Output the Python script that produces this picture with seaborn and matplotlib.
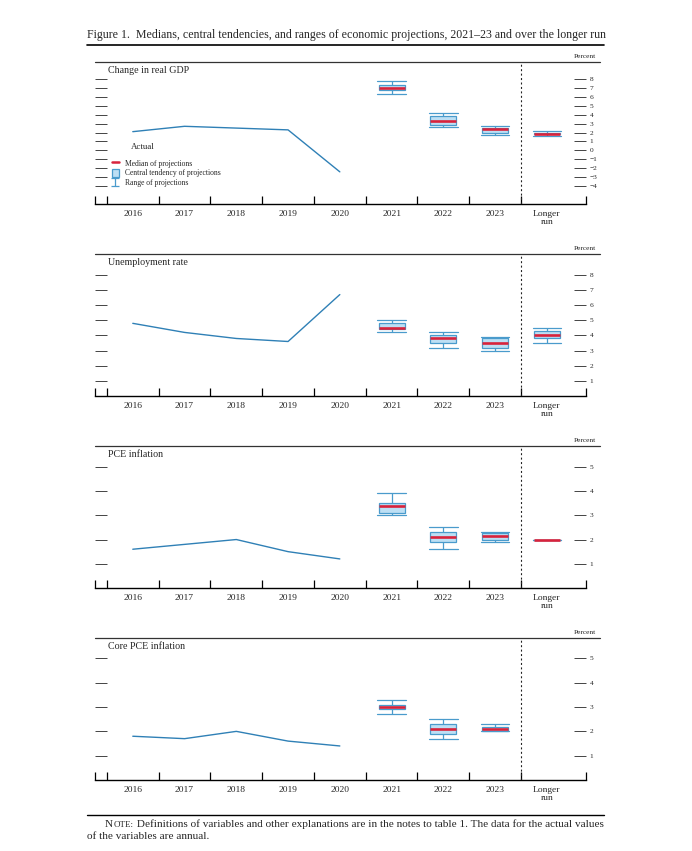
import matplotlib
matplotlib.use("Agg")
import matplotlib.pyplot as plt
from matplotlib.lines import Line2D
from matplotlib.patches import Patch
from matplotlib.path import Path
import seaborn as sns
import pandas as pd
import numpy as np

# actual values, 2016-2020
years = ["2016", "2017", "2018", "2019", "2020"]
proj_labels = ["2021", "2022", "2023", "Longer\nrun"]

gdp_actual = [2.1, 2.7, 2.5, 2.3, -2.4]
unemp_actual = [4.8, 4.2, 3.8, 3.6, 6.7]
pce_actual = [1.6, 1.8, 2.0, 1.5, 1.2]
core_actual = [1.8, 1.7, 2.0, 1.6, 1.4]

# projections: 2021, 2022, 2023, longer run
gdp_range_low = [6.3, 2.6, 1.7, 1.6]
gdp_ct_low = [6.8, 2.8, 2.0, 1.8]
gdp_median = [7.0, 3.3, 2.4, 1.8]
gdp_ct_high = [7.3, 3.8, 2.5, 2.0]
gdp_range_high = [7.8, 4.2, 2.7, 2.2]

unemp_range_low = [4.2, 3.2, 3.0, 3.5]
unemp_ct_low = [4.4, 3.5, 3.2, 3.8]
unemp_median = [4.5, 3.8, 3.5, 4.0]
unemp_ct_high = [4.8, 4.0, 3.8, 4.3]
unemp_range_high = [5.0, 4.2, 3.9, 4.5]

pce_range_low = [3.0, 1.6, 1.9, 2.0]
pce_ct_low = [3.1, 1.9, 2.0, 2.0]
pce_median = [3.4, 2.1, 2.15, 2.0]
pce_ct_high = [3.5, 2.3, 2.25, 2.0]
pce_range_high = [3.9, 2.5, 2.3, 2.0]

# no longer-run projection for core PCE
core_range_low = [2.7, 1.7, 2.0]
core_ct_low = [2.9, 1.9, 2.0]
core_median = [3.0, 2.1, 2.1]
core_ct_high = [3.1, 2.3, 2.2]
core_range_high = [3.3, 2.5, 2.3]

line_blue = "#2f80b6"
box_edge = "#4a9bcc"
box_fill = "#bddff4"
med_red = "#d8233c"

sns.set_style("white")
plt.rcParams["font.family"] = ["Liberation Serif", "DejaVu Serif"]


def proj_frame(lo, ctl, med, cth, hi):
    # five points per year: quartiles land on the central tendency,
    # min/max on the range, middle value on the median
    rows = []
    for i in range(len(med)):
        for v in (lo[i], ctl[i], med[i], cth[i], hi[i]):
            rows.append({"pos": 5 + i, "value": v})
    return pd.DataFrame(rows)


panels = [
    ("Change in real GDP", gdp_actual,
     proj_frame(gdp_range_low, gdp_ct_low, gdp_median, gdp_ct_high, gdp_range_high),
     (-6.0, 9.9), list(range(-4, 9))),
    ("Unemployment rate", unemp_actual,
     proj_frame(unemp_range_low, unemp_ct_low, unemp_median, unemp_ct_high, unemp_range_high),
     (0, 9.38), list(range(1, 9))),
    ("PCE inflation", pce_actual,
     proj_frame(pce_range_low, pce_ct_low, pce_median, pce_ct_high, pce_range_high),
     (0, 5.86), list(range(1, 6))),
    ("Core PCE inflation", core_actual,
     proj_frame(core_range_low, core_ct_low, core_median, core_ct_high, core_range_high),
     (0, 5.84), list(range(1, 6))),
]

W, H = 692, 851
fig = plt.figure(figsize=(W / 100, H / 100), dpi=100)

ax_left = 95 / W
ax_w = (586 - 95) / W
tops = [62, 254, 446, 638]
ax_h_px = 142
xlo, xhi = -0.73, 8.756

for k, (title, actual, proj, ylim, yt) in enumerate(panels):
    bottom = 1 - (tops[k] + ax_h_px) / H
    ax = fig.add_axes([ax_left, bottom, ax_w, ax_h_px / H])

    sns.lineplot(x=list(range(len(actual))), y=actual, ax=ax, color=line_blue, lw=1.0)
    sns.boxplot(data=proj, x="pos", y="value", native_scale=True, ax=ax,
                width=0.5, whis=(0, 100), color=box_fill, linecolor=box_edge,
                saturation=1, linewidth=0.9, capwidths=0.55,
                medianprops={"color": med_red, "linewidth": 1.9})

    ax.set_xlim(xlo, xhi)
    ax.set_ylim(*ylim)
    ax.axvline(7.5, color="#222222", lw=0.8, ls=(0, (1.8, 2.2)))

    for s in ["left", "right", "top"]:
        ax.spines[s].set_visible(False)
    ax.spines["bottom"].set_linewidth(1.0)
    ax.spines["bottom"].set_color("black")
    # top rule runs a little past the plot frame
    ax.plot([0, 1.0285], [1, 1], transform=ax.transAxes, color="#333333",
            lw=0.9, clip_on=False)
    ax.text(1.0205, 1.02, "Percent", transform=ax.transAxes, ha="right",
            va="bottom", fontsize=5.3)
    ax.text(0.026, 0.975, title, transform=ax.transAxes, ha="left", va="top",
            fontsize=7.2)

    # x axis: boundary ticks, labels centred in each year
    ax.set_xticks([xlo] + [i - 0.5 for i in range(9)] + [xhi])
    ax.set_xticklabels([])
    ax.set_xticks(list(range(9)), minor=True)
    ax.set_xticklabels(years + proj_labels, minor=True, fontsize=6.8,
                       linespacing=1.0)
    ax.tick_params(axis="x", which="major", direction="in", length=5.5,
                   width=0.9, color="black", bottom=True)
    ax.tick_params(axis="x", which="minor", length=0, pad=4)

    ax.set_yticks(yt)
    ax.set_yticklabels([str(v).replace("-", "\u2212") for v in yt], fontsize=5.3)
    ax.tick_params(axis="y", which="major", direction="in", length=8.5,
                   width=0.7, color="#444444", left=True, right=True,
                   labelleft=False, labelright=True, pad=2.5)
    ax.set_xlabel("")
    ax.set_ylabel("")

    if k == 0:
        ax.text(-0.04, 0.35, "Actual", fontsize=6.4, va="center", ha="left")
        whisk = Path([(-1, 1), (1, 1), (0, 1), (0, -1), (-1, -1), (1, -1)],
                     [Path.MOVETO, Path.LINETO, Path.MOVETO, Path.LINETO,
                      Path.MOVETO, Path.LINETO])
        handles = [
            Line2D([], [], color=med_red, lw=1.8),
            Patch(facecolor=box_fill, edgecolor=box_edge, lw=0.9),
            Line2D([], [], ls="none", marker=whisk, markersize=6,
                   markeredgecolor=box_edge, markeredgewidth=0.9),
        ]
        ax.legend(handles, ["Median of projections",
                            "Central tendency of projections",
                            "Range of projections"],
                  loc="upper left", bbox_to_anchor=(0.026, 0.345), frameon=False,
                  fontsize=5.5, handlelength=1.0, handleheight=1.3,
                  labelspacing=0.15, handletextpad=0.7, borderpad=0)

# title, rules and note
over = fig.add_axes([0, 0, 1, 1])
over.set_axis_off()
over.set_xlim(0, W)
over.set_ylim(H, 0)
over.text(87, 35, "Figure 1.  Medians, central tendencies, and ranges of economic "
          "projections, 2021\u201323 and over the longer run",
          fontsize=8.6, ha="left", va="center")
over.plot([87, 604], [45, 45], color="black", lw=1.2)
over.plot([87, 604], [815, 815], color="black", lw=1.0)

t1 = over.text(105, 827, "N", fontsize=8.1, ha="left", va="baseline")
t2 = over.annotate("OTE:", xy=(1, 0), xycoords=t1, fontsize=6.5, va="bottom",
                   xytext=(0.3, 0), textcoords="offset points")
over.annotate(" Definitions of variables and other explanations are in the notes to "
              "table 1. The data for the actual values", xy=(1, 0), xycoords=t2,
              fontsize=8.1, va="bottom")
over.text(87, 839, "of the variables are annual.", fontsize=8.1, ha="left",
          va="baseline")

fig.savefig("out.png", dpi=100)
